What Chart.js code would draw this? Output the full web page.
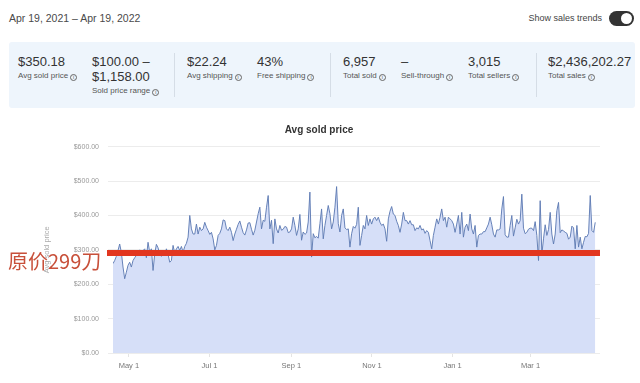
<!DOCTYPE html>
<html><head><meta charset="utf-8">
<script src="https://cdn.jsdelivr.net/npm/chart.js@4.4.1/dist/chart.umd.min.js"></script>
<style>
html,body{margin:0;padding:0;background:#fff;width:640px;height:383px;overflow:hidden;font-family:'Liberation Sans',Arial,sans-serif;}
.a{position:absolute;white-space:nowrap;}
.n{position:absolute;white-space:nowrap;top:55px;font-size:13px;line-height:14px;color:#333;}
.l{position:absolute;white-space:nowrap;top:72px;font-size:8px;line-height:8px;color:#555;}
.l i{display:inline-block;width:5px;height:5px;border:1px solid #666;border-radius:50%;margin-left:2px;vertical-align:-1px;font-style:normal;font-size:5px;line-height:5px;text-align:center;color:#555;}
.sep{position:absolute;top:53px;width:1px;height:44px;background:#d5dde6;}
</style></head><body>
<div class="a" style="left:9px;top:12px;font-size:10.5px;line-height:12px;color:#4a4a4a">Apr 19, 2021 – Apr 19, 2022</div>
<div class="a" style="right:38px;top:13.5px;font-size:9px;line-height:9px;color:#444">Show sales trends</div>
<div class="a" style="left:609px;top:11px;width:25px;height:15px;background:#333;border-radius:8px"></div>
<div class="a" style="left:621px;top:13px;width:11px;height:11px;background:#fff;border-radius:50%"></div>

<div class="a" style="left:9px;top:42px;width:626px;height:66px;background:#eef5fc;border-radius:3px"></div>
<div class="n" style="left:18px">$350.18</div>
<div class="l" style="left:18px">Avg sold price<i>i</i></div>
<div class="n" style="left:92px">$100.00 –</div>
<div class="n" style="left:92px;top:70px">$1,158.00</div>
<div class="l" style="left:92px;top:87px">Sold price range<i>i</i></div>
<div class="sep" style="left:174px"></div>
<div class="n" style="left:187px">$22.24</div>
<div class="l" style="left:187px">Avg shipping<i>i</i></div>
<div class="n" style="left:257px">43%</div>
<div class="l" style="left:257px">Free shipping<i>i</i></div>
<div class="sep" style="left:330px"></div>
<div class="n" style="left:343px">6,957</div>
<div class="l" style="left:343px">Total sold<i>i</i></div>
<div class="n" style="left:401px">–</div>
<div class="l" style="left:401px">Sell-through<i>i</i></div>
<div class="n" style="left:468px">3,015</div>
<div class="l" style="left:468px">Total sellers<i>i</i></div>
<div class="sep" style="left:536px"></div>
<div class="n" style="left:548px">$2,436,202.27</div>
<div class="l" style="left:548px">Total sales<i>i</i></div>

<div class="a" style="left:0;top:112px;width:640px;height:271px"><canvas id="c" width="640" height="271"></canvas></div>
<div class="a" style="left:8px;top:251px;font-size:20px;line-height:20px;color:#c8503a;font-family:'Noto Sans CJK SC',sans-serif">原价299刀</div>

<script>
// Tick labels and their day offsets from Apr 19, 2021
const tickDays = [12, 73, 135, 196, 257, 316];
const tickLabels = ['May 1', 'Jul 1', 'Sep 1', 'Nov 1', 'Jan 1', 'Mar 1'];
const yTicks = [0, 100, 200, 300, 400, 500, 600];
const spanDays = 365;      // Apr 19, 2021 – Apr 19, 2022
const refPrice = 291;      // hand-drawn red reference line
// Avg sold price readings, left to right
const priceAprToJul = [260,269,281,298,317,293,250,216,235,255,264,250,269,277,284,288,300,284,298,303,277,322,293,303,240,288,316,306,287,281,298,284,303,287,264,269,313,290,303,310,298,310,293,310,319,337,400,361,346,346,375,346,366,356,361,380,366,356,345,351,332,300,313,342,348,361,387,385,361,356,366,351,327,346];
const priceJulToOct = [360,374,384,366,350,343,358,378,379,360,343,357,381,405,424,361,386,383,424,458,361,386,318,390,361,349,371,357,360,368,366,350,352,361,395,371,342,361,403,328,352,345,349,381,468,279,347,335,339,334,376,419,332,371,400,429,405,361,381,424,484,376,352,400,419,364,359,361,308,347,368,363,374];
const priceOctToJan = [424,313,342,371,361,400,371,390,375,390,395,385,395,380,371,375,361,325,390,412,426,404,400,383,371,351,375,409,385,385,375,385,373,373,356,364,361,371,358,361,348,356,351,327,303,342,366,390,375,395,419,385,395,366,395,390,385,375,351,375,400,346,409,337,366,375,356,404,361,346,371,308,342];
const priceJanToApr = [346,346,353,353,364,375,395,373,346,337,358,358,361,419,455,344,337,337,371,400,340,364,389,375,385,462,363,347,351,360,363,363,356,382,342,269,443,288,332,373,342,359,409,346,317,346,414,438,350,358,355,351,348,331,337,369,364,303,371,308,337,303,322,339,338,348,458,356,351,380];

const values = [...priceAprToJul, ...priceJulToOct, ...priceOctToJan, ...priceJanToApr];
const points = values.map((v, i) => ({x: i * spanDays / (values.length - 1), y: v}));

const F = "'Liberation Sans', Arial, sans-serif";
Chart.defaults.font.family = F;

const refLine = {
  id: 'refLine',
  afterDatasetsDraw(chart) {
    const {ctx, chartArea, scales} = chart;
    const y = scales.y.getPixelForValue(refPrice);
    ctx.save();
    ctx.strokeStyle = '#e2361f';
    ctx.lineWidth = 6;
    ctx.beginPath();
    ctx.moveTo(chartArea.left - 6, y);
    ctx.lineTo(chartArea.right, y);
    ctx.stroke();
    ctx.restore();
  }
};

new Chart(document.getElementById('c'), {
  type: 'line',
  data: {
    datasets: [{
      data: points,
      borderColor: 'rgba(96,124,180,0.95)',
      borderWidth: 1,
      backgroundColor: '#d6dff8',
      fill: 'origin',
      pointRadius: 0,
      tension: 0
    }]
  },
  options: {
    responsive: false,
    animation: false,
    devicePixelRatio: 1,
    layout: {padding: {left: 38, right: 40, top: 0, bottom: 0}},
    plugins: {
      legend: {display: false},
      tooltip: {enabled: false},
      title: {display: true, text: 'Avg sold price', color: '#333',
        font: {size: 10, weight: 'bold', lineHeight: 1.2}, padding: {top: 12, bottom: 10.7}}
    },
    scales: {
      x: {
        type: 'linear', min: 0, max: 368.6,
        afterBuildTicks(ax) { ax.ticks = tickDays.map(v => ({value: v})); },
        ticks: {callback: v => tickLabels[tickDays.indexOf(v)], autoSkip: false, maxRotation: 0,
          color: '#777', font: {size: 7.5}, padding: 4},
        grid: {drawOnChartArea: false, drawTicks: true, tickLength: 4, color: '#e4e4e4'},
        border: {display: false},
        afterFit(s) { s.height = 30; }
      },
      y: {
        min: 0, max: 600,
        afterBuildTicks(ax) { ax.ticks = yTicks.map(v => ({value: v})); },
        ticks: {callback: v => '$' + Number(v).toFixed(2), color: '#999', font: {size: 7}, padding: 9},
        grid: {color: '#ececec', tickLength: 5},
        border: {display: false},
        title: {display: true, text: 'Avg sold price', color: '#aaa', font: {size: 7.5}, padding: {top: 4, bottom: 0}},
        afterFit(s) { s.width = 75; }
      }
    }
  },
  plugins: [refLine]
});
</script>
</body></html>
